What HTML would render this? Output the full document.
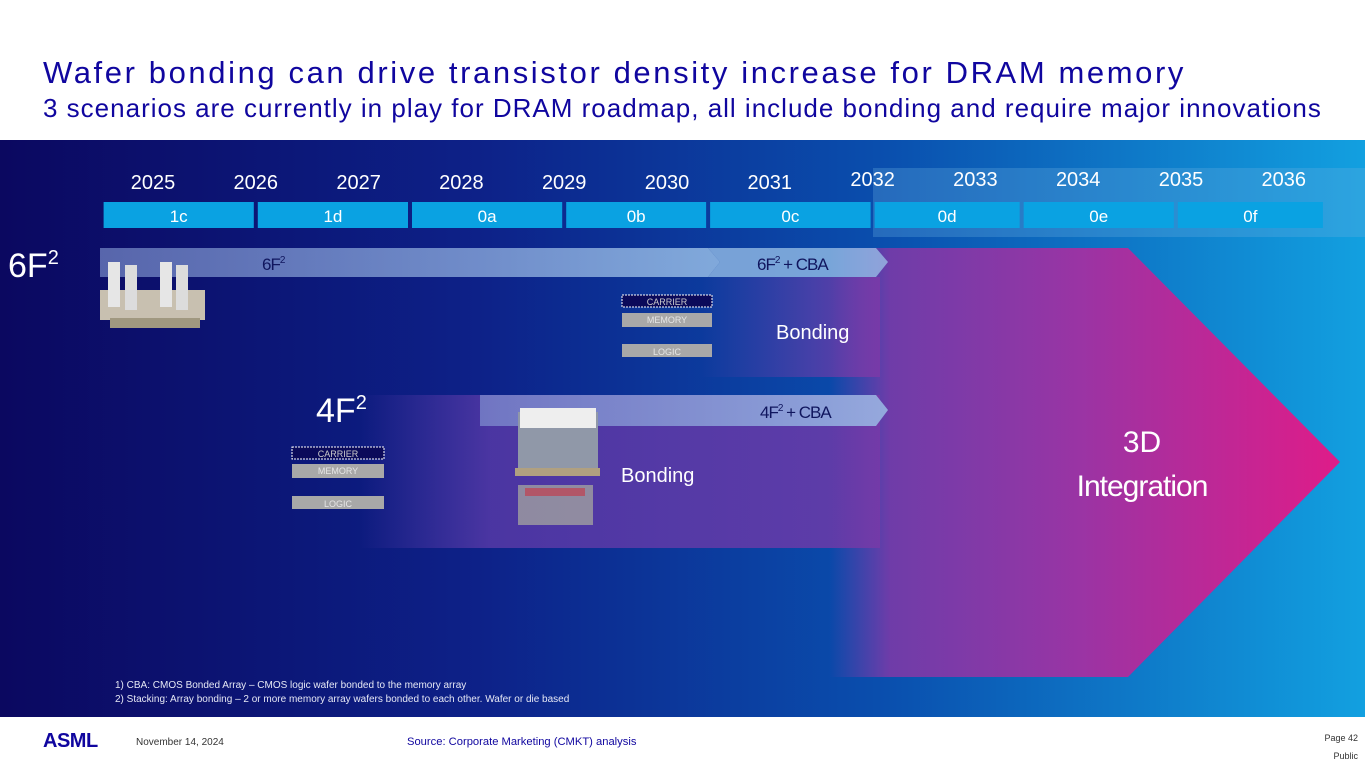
<!DOCTYPE html>
<html><head><meta charset="utf-8">
<style>
body{margin:0;width:1365px;height:768px;overflow:hidden;background:#fff;font-family:"Liberation Sans",sans-serif}
svg{display:block}
text{font-family:"Liberation Sans",sans-serif}
</style></head>
<body>
<svg width="1365" height="768" viewBox="0 0 1365 768">
<defs>
<linearGradient id="bg" x1="0" x2="1" y1="0" y2="0">
<stop offset="0" stop-color="#0b0860"/><stop offset="0.35" stop-color="#0d2188"/><stop offset="0.65" stop-color="#0a4fae"/><stop offset="1" stop-color="#12a0e0"/></linearGradient>
<linearGradient id="pink" x1="830" x2="1330" y1="0" y2="0" gradientUnits="userSpaceOnUse">
<stop offset="0" stop-color="#7a3aa8" stop-opacity="0"/><stop offset="0.12" stop-color="#7a3aa8" stop-opacity="0.9"/><stop offset="0.5" stop-color="#9a34a4"/><stop offset="1" stop-color="#dc1d8a"/></linearGradient>
<linearGradient id="purp" x1="360" x2="880" y1="0" y2="0" gradientUnits="userSpaceOnUse">
<stop offset="0" stop-color="#5a3aa8" stop-opacity="0"/><stop offset="0.25" stop-color="#5a3aa8" stop-opacity="0.8"/><stop offset="1" stop-color="#6a3aa8" stop-opacity="0.9"/></linearGradient>
<linearGradient id="purp2" x1="700" x2="880" y1="0" y2="0" gradientUnits="userSpaceOnUse">
<stop offset="0" stop-color="#6a3aa8" stop-opacity="0"/><stop offset="1" stop-color="#7a3aa8" stop-opacity="0.9"/></linearGradient>
<linearGradient id="bar" x1="0" x2="1" y1="0" y2="0">
<stop offset="0" stop-color="#8aa0d8" stop-opacity="0.6"/><stop offset="1" stop-color="#9ec4ea" stop-opacity="0.8"/></linearGradient>
</defs>

<text x="43" y="83" font-size="31" fill="#10069f" letter-spacing="2.6">Wafer bonding can drive transistor density increase for DRAM memory</text>
<text x="43" y="117" font-size="26" fill="#10069f" letter-spacing="1">3 scenarios are currently in play for DRAM roadmap, all include bonding and require major innovations</text>

<rect x="0" y="140" width="1365" height="577" fill="url(#bg)"/>
<rect x="873" y="168" width="492" height="69" fill="#6aaee0" opacity="0.3"/>

<rect x="360" y="395" width="520" height="153" fill="url(#purp)"/>
<rect x="700" y="277" width="180" height="100" fill="url(#purp2)"/>
<polygon points="830,248 1128,248 1340,462 1128,677 830,677" fill="url(#pink)"/>

<g id="years"></g>
<g id="nodes"></g>

<polygon points="100,248 708,248 720,262 708,277 100,277" fill="url(#bar)"/>
<polygon points="708,248 876,248 888,262 876,277 708,277 720,262" fill="#9ec4ea" opacity="0.75"/>
<text x="262" y="270" font-size="17" fill="#10165e" letter-spacing="-1">6F<tspan font-size="10" dy="-7">2</tspan></text>
<text x="757" y="270" font-size="17" fill="#10165e" letter-spacing="-1">6F<tspan font-size="10" dy="-7">2</tspan><tspan dy="7"> + CBA</tspan></text>

<polygon points="480,395 876,395 888,410 876,426 480,426" fill="url(#bar)"/>
<text x="760" y="418" font-size="17" fill="#10165e" letter-spacing="-1">4F<tspan font-size="10" dy="-7">2</tspan><tspan dy="7"> + CBA</tspan></text>

<text x="8" y="277" font-size="34" fill="#fff">6F<tspan font-size="20" dy="-13">2</tspan></text>
<text x="316" y="422" font-size="34" fill="#fff">4F<tspan font-size="20" dy="-13">2</tspan></text>

<text x="776" y="339" font-size="20" fill="#fff">Bonding</text>
<text x="621" y="482" font-size="20" fill="#fff">Bonding</text>
<text x="1142" y="452" font-size="30" fill="#fff" text-anchor="middle">3D</text>
<text x="1142" y="496" font-size="30" fill="#fff" text-anchor="middle" letter-spacing="-1">Integration</text>

<g>
<rect x="622" y="295" width="90" height="12" fill="#0b0a5a" stroke="#fff" stroke-dasharray="2,1"/>
<text x="667" y="305" font-size="9" fill="#ccc" text-anchor="middle">CARRIER</text>
<rect x="622" y="313" width="90" height="14" fill="#a8a8a8"/>
<text x="667" y="323" font-size="9" fill="#e6e6e6" text-anchor="middle">MEMORY</text>
<rect x="622" y="344" width="90" height="13" fill="#a8a8a8"/>
<text x="667" y="355" font-size="9" fill="#e6e6e6" text-anchor="middle">LOGIC</text>
</g>
<g>
<rect x="292" y="447" width="92" height="12" fill="#0b0a5a" stroke="#fff" stroke-dasharray="2,1"/>
<text x="338" y="457" font-size="9" fill="#ccc" text-anchor="middle">CARRIER</text>
<rect x="292" y="464" width="92" height="14" fill="#a8a8a8"/>
<text x="338" y="474" font-size="9" fill="#e6e6e6" text-anchor="middle">MEMORY</text>
<rect x="292" y="496" width="92" height="13" fill="#a8a8a8"/>
<text x="338" y="507" font-size="9" fill="#e6e6e6" text-anchor="middle">LOGIC</text>
</g>
<g>
<rect x="100" y="290" width="105" height="30" fill="#c8c0b0"/>
<rect x="108" y="262" width="12" height="45" fill="#e6e6e6"/><rect x="125" y="265" width="12" height="45" fill="#dcdcdc"/>
<rect x="160" y="262" width="12" height="45" fill="#e6e6e6"/><rect x="176" y="265" width="12" height="45" fill="#dcdcdc"/>
<rect x="110" y="318" width="90" height="10" fill="#a09880"/>
</g>
<g>
<rect x="518" y="412" width="80" height="58" fill="#9098a8"/>
<rect x="520" y="408" width="76" height="20" fill="#eeeeee"/>
<rect x="515" y="468" width="85" height="8" fill="#b0a080"/>
<rect x="518" y="485" width="75" height="40" fill="#a0a0a0" opacity="0.8"/>
<rect x="525" y="488" width="60" height="8" fill="#c04050" opacity="0.7"/>
</g>

<text x="115" y="688" font-size="10" fill="#e6e8f5">1) CBA: CMOS Bonded Array – CMOS logic wafer bonded to the memory array</text>
<text x="115" y="702" font-size="10" fill="#e6e8f5">2) Stacking: Array bonding – 2 or more memory array wafers bonded to each other. Wafer or die based</text>

<text x="43" y="747" font-size="20" font-weight="bold" fill="#10069f" letter-spacing="-0.5">ASML</text>
<text x="136" y="745" font-size="10" fill="#333">November 14, 2024</text>
<text x="407" y="745" font-size="11.2" fill="#10069f">Source: Corporate Marketing (CMKT) analysis</text>
<text x="1358" y="741" font-size="9" fill="#333" text-anchor="end">Page 42</text>
<text x="1358" y="759" font-size="9" fill="#333" text-anchor="end">Public</text>
</svg>
<script>
const years=["2025","2026","2027","2028","2029","2030","2031","2032","2033","2034","2035","2036"];
const nodeLabels=["1c","1d","0a","0b","0c","0d","0e","0f"];
const nodeStart=[-0.5,1,2.5,4,5.4,7,8.45,9.95];
const nodeEnd=[1,2.5,4,5.4,7,8.45,9.95,11.4];
const NS="http://www.w3.org/2000/svg";
const x0=153, step=102.8;
function xYear(i){return x0+i*step;}
const gy=document.getElementById('years');
years.forEach((y,i)=>{
 const t=document.createElementNS(NS,'text');
 
 
 t.setAttribute('x',xYear(i));t.setAttribute('y',i<7?189:186);
 t.setAttribute('font-size','20');t.setAttribute('fill','#fff');t.setAttribute('text-anchor','middle');
 t.textContent=y;gy.appendChild(t);
});
const gn=document.getElementById('nodes');
nodeLabels.forEach((n,i)=>{
 const a=xYear(nodeStart[i])+2,b=xYear(nodeEnd[i])-2;
 const r=document.createElementNS(NS,'rect');
 
 
 r.setAttribute('x',a);r.setAttribute('y',202);r.setAttribute('width',b-a);r.setAttribute('height',26);r.setAttribute('fill','#0aa2e2');
 gn.appendChild(r);
 const t=document.createElementNS(NS,'text');
 
 
 t.setAttribute('x',(a+b)/2);t.setAttribute('y',222);t.setAttribute('font-size','17');t.setAttribute('fill','#fff');t.setAttribute('text-anchor','middle');
 t.textContent=n;gn.appendChild(t);
});
</script>
</body></html>
